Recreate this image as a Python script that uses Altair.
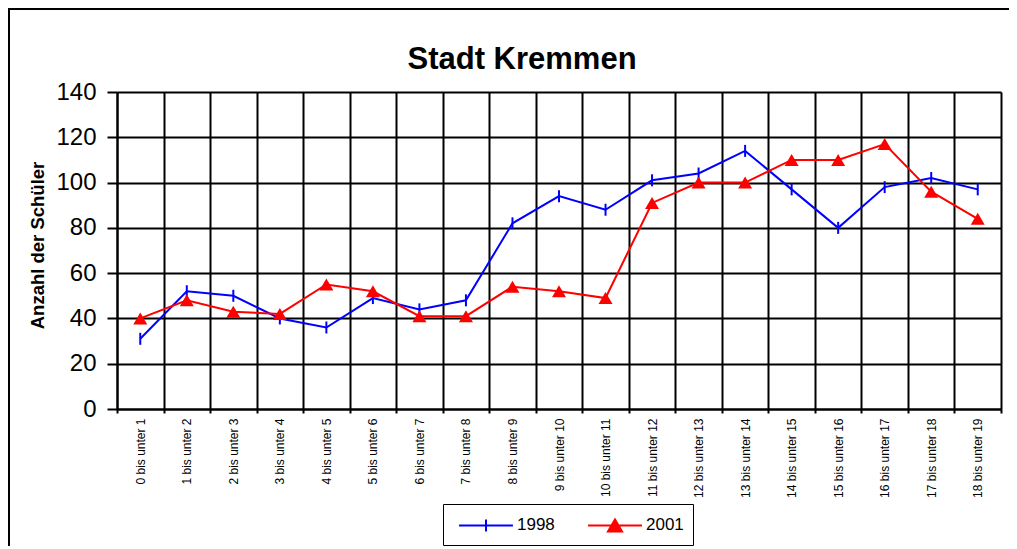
import altair as alt
import pandas as pd

categories = [
    "0 bis unter 1", "1 bis unter 2", "2 bis unter 3", "3 bis unter 4",
    "4 bis unter 5", "5 bis unter 6", "6 bis unter 7", "7 bis unter 8",
    "8 bis unter 9", "9 bis unter 10", "10 bis unter 11", "11 bis unter 12",
    "12 bis unter 13", "13 bis unter 14", "14 bis unter 15", "15 bis unter 16",
    "16 bis unter 17", "17 bis unter 18", "18 bis unter 19",
]
v1998 = [31, 52, 50, 40, 36, 49, 44, 48, 82, 94, 88, 101, 104, 114, 97, 80, 98, 102, 97]
v2001 = [40, 48, 43, 42, 55, 52, 41, 41, 54, 52, 49, 91, 100, 100, 110, 110, 117, 96, 84]
series_names = ["1998", "2001"]
y_ticks = [0, 20, 40, 60, 80, 100, 120, 140]

FONT = "Liberation Sans"
BLUE = "#0000FF"
RED = "#FF0000"

rows = []
for c, a, b in zip(categories, v1998, v2001):
    rows.append({"cat": c, "series": "1998", "value": a})
    rows.append({"cat": c, "series": "2001", "value": b})
df = pd.DataFrame(rows)

x_enc = alt.X(
    "cat:N", sort=categories,
    scale=alt.Scale(type="band", paddingInner=0, paddingOuter=0),
    axis=alt.Axis(
        title=None, grid=True, tickBand="extent", gridColor="black", gridWidth=2,
        gridOpacity=1, domainColor="black", domainWidth=2, tickColor="black",
        tickWidth=2, tickSize=4, labelAngle=270, labelFontSize=12, labelFont=FONT,
        labelColor="black", labelPadding=5, labelOverlap=False,
    ),
)
y_enc = alt.Y(
    "value:Q",
    scale=alt.Scale(domain=[0, 140], nice=False, zero=True),
    axis=alt.Axis(
        values=y_ticks, grid=True, gridColor="black", gridWidth=2, gridOpacity=1,
        domainColor="black", domainWidth=2, tickColor="black", tickWidth=2,
        tickSize=10, labelFontSize=24, labelFont=FONT, labelColor="black",
        labelPadding=11, title="Anzahl der Schüler", titleFont=FONT,
        titleFontSize=18.5, titleFontWeight="bold", titleColor="black",
        titleAngle=270, titleAlign="center", titleBaseline="alphabetic",
        titleX=-74, titleY=153,
    ),
)

base = alt.Chart(df).encode(x=x_enc, y=y_enc)

frame = alt.Chart(alt.Data(values=[{"a": 1}])).mark_rect(
    fill="white", fillOpacity=0, stroke="black", strokeWidth=2
).encode(x=alt.value(-108), x2=alt.value(1300), y=alt.value(-83), y2=alt.value(1000))

line98 = base.transform_filter(alt.datum.series == "1998").mark_line(color=BLUE, strokeWidth=2)
pts98 = base.transform_filter(alt.datum.series == "1998").mark_point(
    shape="M0,-1L0,1", size=144, strokeWidth=2, color=BLUE, filled=False, opacity=1
)
line01 = base.transform_filter(alt.datum.series == "2001").mark_line(color=RED, strokeWidth=2)
pts01 = base.transform_filter(alt.datum.series == "2001").mark_point(
    shape="M-1,0.857L0,-0.857L1,0.857Z", size=196, filled=True, color=RED, opacity=1,
    strokeWidth=0,
)

path98 = "M-2.45,0L2.45,0M0,-0.55L0,0.55"
path01 = "M-2.45,0L2.45,0M-0.64,0.55L0,-0.55L0.64,0.55Z"
leg = alt.Legend(
    title=None, orient="none", legendX=326, legendY=412, direction="horizontal",
    strokeColor="black", padding=9, labelFontSize=17, labelFont=FONT,
    labelColor="black", labelOffset=19, columnPadding=26, symbolSize=484,
    symbolStrokeWidth=2, symbolOffset=22,
)
legend_layer = alt.Chart(df).transform_filter("false").mark_point(
    opacity=1, strokeWidth=2, size=484
).encode(
    fill=alt.Fill("series:N", scale=alt.Scale(domain=series_names, range=[BLUE, RED]), legend=leg),
    stroke=alt.Stroke("series:N", scale=alt.Scale(domain=series_names, range=[BLUE, RED]), legend=leg),
    shape=alt.Shape("series:N", scale=alt.Scale(domain=series_names, range=[path98, path01]), legend=leg),
)

chart = alt.layer(frame, line98, line01, pts98, pts01, legend_layer).properties(
    width=884, height=317,
    padding={"left": 109, "top": 84, "right": 8, "bottom": 137},
    autosize=alt.AutoSizeParams(type="none"),
    title=alt.TitleParams(
        "Stadt Kremmen", font=FONT, fontSize=31, fontWeight="bold", color="black",
        anchor="middle", frame="group", baseline="alphabetic", offset=0, dx=-37, dy=92,
    ),
).configure_view(
    stroke="#808080", strokeWidth=2.5
).configure_legend(strokeWidth=2).configure(background="white")

chart.save("out.html", embed_options={"renderer": "svg", "actions": False})
